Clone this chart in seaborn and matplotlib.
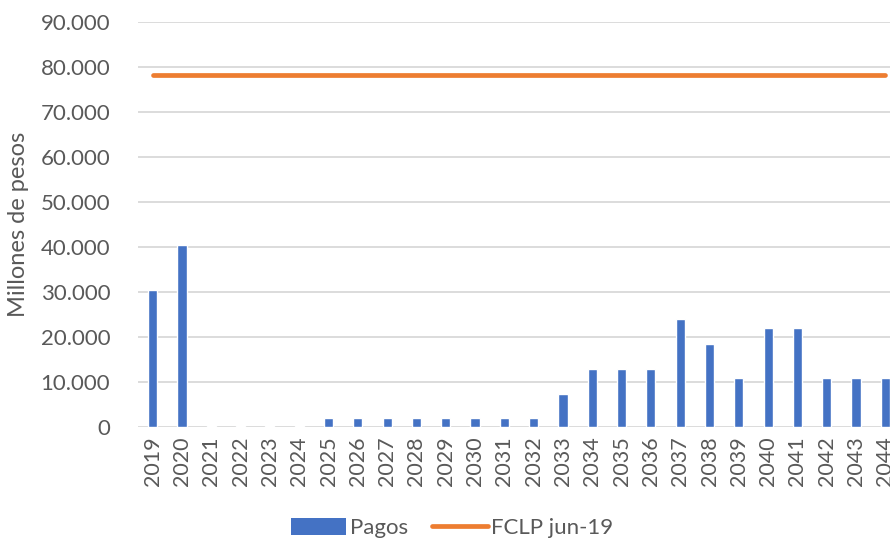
import matplotlib
matplotlib.use("Agg")
import matplotlib.pyplot as plt
import matplotlib.ticker as mticker
from matplotlib.patches import Patch
from matplotlib.lines import Line2D
import numpy as np
import pandas as pd
import seaborn as sns

# Annual payments (millions of pesos) and the FCLP balance as of June 2019
years = [str(y) for y in range(2019, 2045)]
pagos = [30400, 40400, 200, 200, 200, 200, 2000, 2000, 2000, 2000, 2000, 2000,
         2000, 2000, 7300, 12900, 12900, 12900, 23900, 18400, 10900, 22100,
         22100, 11000, 11000, 11000]
fclp_jun19 = 78200
y_ticks = [0, 10000, 20000, 30000, 40000, 50000, 60000, 70000, 80000, 90000]

BLUE = "#4472C4"
ORANGE = "#ED7D31"
GRID = "#D9D9D9"
TEXT = "#595959"

sns.set_theme(style="white")
plt.rcParams["font.family"] = ["Lato", "DejaVu Sans"]

df = pd.DataFrame({"year": years, "pagos": pagos})

fig = plt.figure(figsize=(8.9, 5.4), dpi=100)
ax = fig.add_axes([138 / 890, 1 - 427 / 540, 762 / 890, 405 / 540])

sns.barplot(data=df, x="year", y="pagos", color=BLUE, width=0.31,
            saturation=1, ax=ax, zorder=3)
sns.lineplot(x=np.arange(len(years)), y=[fclp_jun19] * len(years), ax=ax,
             color=ORANGE, linewidth=3.4, solid_capstyle="round", zorder=4)

ax.set_ylim(0, 90000)
ax.set_xlim(-0.5, len(years) - 0.5)
ax.set_yticks(y_ticks)
ax.yaxis.set_major_formatter(
    mticker.FuncFormatter(lambda v, _: f"{int(v):,}".replace(",", ".")))
ax.grid(axis="y", color=GRID, linewidth=1.3, zorder=0)
ax.set_axisbelow(True)
for s in ax.spines.values():
    s.set_visible(False)

ax.tick_params(axis="y", labelsize=16, colors=TEXT, length=0, pad=20)
ax.tick_params(axis="x", labelsize=15.5, colors=TEXT, length=0, pad=7,
               labelrotation=90)
ax.set_xlabel("")
ax.set_ylabel("Millones de pesos", fontsize=17, color=TEXT, labelpad=8)

handles = [Patch(facecolor=BLUE, edgecolor="none", label="Pagos"),
           Line2D([0], [0], color=ORANGE, linewidth=3.4,
                  solid_capstyle="round", label="FCLP jun-19")]
fig.legend(handles=handles, loc="center", bbox_to_anchor=(452 / 890, 1 - 528 / 540),
           ncol=2, frameon=False, fontsize=16, labelcolor=TEXT,
           handlelength=2.5, handleheight=0.85, handletextpad=0.15,
           columnspacing=1.1, borderpad=0.2)

fig.savefig("out.png", dpi=100)
